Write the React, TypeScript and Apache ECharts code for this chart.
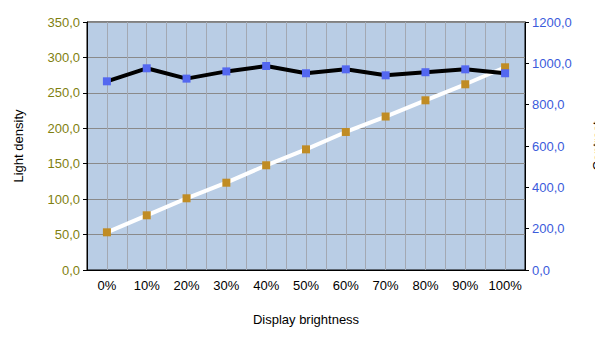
import React, { useEffect, useRef } from "react";
import * as echarts from "echarts";

const categories = ["0%", "10%", "20%", "30%", "40%", "50%", "60%", "70%", "80%", "90%", "100%"];
const lightDensity = [53.2, 77.2, 101.2, 123.2, 147.8, 170.3, 194.8, 216.6, 239.5, 262.1, 286.1];
const contrast = [913, 976, 926, 961, 987, 952, 971, 942, 957, 971, 952];

const fmt = (v: number) => v.toFixed(1).replace(".", ",");

export default function App() {
  const ref = useRef<HTMLDivElement>(null);
  useEffect(() => {
    if (!ref.current) return;
    const chart = echarts.init(ref.current, undefined, { renderer: "svg" });
    const font = "Liberation Sans, Arial, sans-serif";
    chart.setOption({
      animation: false,
      textStyle: { fontFamily: font },
      grid: {
        left: 87,
        right: 70,
        top: 22,
        bottom: 67,
        outerBoundsMode: "none",
        containLabel: false,
        show: true,
        backgroundColor: "#b9cde5",
        borderColor: "#000",
        borderWidth: 1,
      },
      xAxis: [
        {
          type: "category",
          data: categories,
          boundaryGap: true,
          axisLine: { show: true, lineStyle: { color: "#000", width: 1 } },
          axisTick: { show: false },
          axisLabel: { color: "#000", fontSize: 13, margin: 9, interval: 0, fontFamily: font },
          splitLine: { show: false },
          name: "Display brightness",
          nameLocation: "middle",
          nameGap: 43,
          nameTextStyle: { color: "#000", fontSize: 13, fontFamily: font },
          z: 5,
        },
        {
          type: "value",
          min: 0,
          max: 22,
          interval: 1,
          show: true,
          position: "bottom",
          axisLine: { show: false },
          axisTick: { show: false },
          axisLabel: { show: false },
          splitLine: { show: true, lineStyle: { color: "#a3a8b2", width: 1 } },
        },
      ],
      yAxis: [
        {
          type: "value",
          min: 0,
          max: 350,
          interval: 50,
          position: "left",
          axisLine: { show: true, lineStyle: { color: "#000", width: 1 } },
          axisTick: { show: true, length: 4, lineStyle: { color: "#000" } },
          axisLabel: { color: "#7f7f10", fontSize: 13, margin: 7, formatter: fmt, fontFamily: font },
          splitLine: { show: true, lineStyle: { color: "#8a8a8a", width: 1 } },
          name: "Light density",
          nameLocation: "middle",
          nameGap: 62,
          nameRotate: 90,
          nameTextStyle: { color: "#000", fontSize: 13, fontFamily: font },
        },
        {
          type: "value",
          min: 0,
          max: 1200,
          interval: 200,
          position: "right",
          axisLine: { show: true, lineStyle: { color: "#000", width: 1 } },
          axisTick: { show: true, length: 4, lineStyle: { color: "#000" } },
          axisLabel: { color: "#3b5bdb", fontSize: 13, margin: 7, formatter: fmt, fontFamily: font },
          splitLine: { show: false },
          name: "Contrast",
          nameLocation: "middle",
          nameGap: 66,
          nameRotate: 90,
          nameTextStyle: { color: "#000", fontSize: 13, fontFamily: font },
        },
      ],
      series: [
        {
          type: "line",
          name: "Contrast",
          data: contrast,
          xAxisIndex: 0,
          yAxisIndex: 1,
          symbol: "rect",
          symbolSize: 8,
          lineStyle: { color: "#000", width: 4 },
          itemStyle: { color: "#5468f0" },
          z: 3,
        },
        {
          type: "line",
          name: "Light density",
          data: lightDensity,
          xAxisIndex: 0,
          yAxisIndex: 0,
          symbol: "rect",
          symbolSize: 8,
          lineStyle: { color: "#ffffff", width: 4 },
          itemStyle: { color: "#c08c24" },
          z: 2,
        },
      ],
    });
    return () => chart.dispose();
  }, []);
  return <div ref={ref} style={{ width: 595, height: 337, position: "absolute", left: 0, top: 0 }} />;
}
